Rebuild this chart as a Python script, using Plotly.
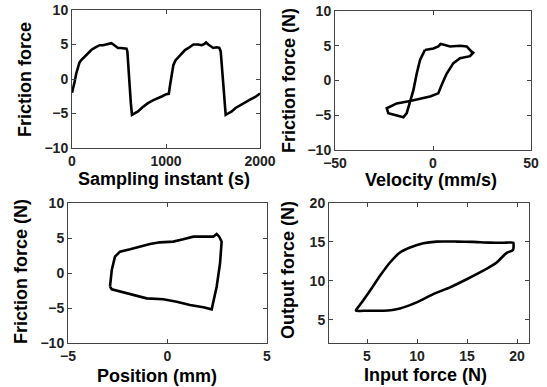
import plotly.graph_objects as go

# ---- data ----
t1 = [0, 15, 28, 45, 64, 80, 99, 125, 152, 180, 205, 240, 270, 294, 330, 360, 390, 418, 440,
      465, 489, 520, 560, 580, 589, 600, 614, 626, 638, 660, 702, 750, 808, 860, 915, 960,
      1003, 1030, 1043, 1060, 1078, 1100, 1131, 1165, 1202, 1250, 1291, 1340, 1380, 1410,
      1426, 1450, 1475, 1503, 1540, 1567, 1582, 1596, 1610, 1622, 1635, 1660, 1699, 1740,
      1787, 1840, 1894, 1950, 2000]
f1 = [-2.0, -1.3, -0.4, 0.8, 1.8, 2.4, 2.75, 3.1, 3.5, 3.9, 4.2, 4.5, 4.7, 4.9, 4.9, 5.0,
      5.1, 5.2, 5.0, 4.7, 4.5, 4.5, 4.45, 4.4, 4.0, 1.5, -1.35, -3.5, -5.2, -5.0, -4.7, -4.1,
      -3.5, -3.1, -2.8, -2.5, -2.2, -2.15, -0.9, 0.6, 2.0, 2.7, 3.2, 3.7, 4.2, 4.6, 5.0, 5.0,
      4.9, 5.1, 5.3, 5.0, 4.7, 4.5, 4.6, 4.5, 4.0, 1.5, -1.35, -3.5, -5.2, -5.0, -4.7, -4.2,
      -3.8, -3.4, -3.0, -2.6, -2.1]

v2 = [-4.1, 0.2, 2.7, 3.9, 6.1, 8.7, 13.8, 17.2, 19.7, 20.5, 18.9, 13.8, 10.4, 7.0, 4.4,
      2.7, -1.5, -6.6, -11.7, -18.5, -23.6, -22.8, -19.4, -15.1, -13.4, -11.7, -10.0, -8.3,
      -6.6, -4.1]
f2 = [4.4, 4.6, 4.9, 5.25, 5.1, 4.9, 5.0, 4.9, 4.15, 4.0, 3.5, 3.2, 2.5, 1.0, -0.65, -1.85,
      -2.3, -2.65, -2.95, -3.3, -4.0, -4.7, -4.95, -5.3, -4.7, -3.05, -1.4, 1.0, 2.95, 4.4]

p3 = [-2.89, -2.8, -2.64, -2.39, -1.88, -1.38, -0.88, -0.38, 0.29, 0.79, 1.3, 1.97, 2.3,
      2.47, 2.6, 2.72, 2.64, 2.47, 2.3, 2.22, 1.8, 1.13, 0.46, -0.21, -1.05, -1.72, -2.39,
      -2.8, -2.89]
f3 = [-1.96, 0.43, 2.33, 3.05, 3.38, 3.76, 4.14, 4.38, 4.48, 4.81, 5.19, 5.19, 5.19, 5.57,
      5.19, 4.48, 1.38, -1.96, -4.33, -5.19, -4.9, -4.57, -4.1, -3.76, -3.62, -3.14, -2.67,
      -2.33, -1.96]

in4 = [3.9, 4.97, 6.63, 8.3, 9.97, 11.63, 13.3, 14.97, 16.63, 17.97, 18.97, 19.47, 19.63,
       19.63, 18.97, 17.3, 15.6, 13.97, 11.97, 10.63, 9.3, 8.3, 7.3, 6.3, 5.3, 4.47, 3.97, 3.9]
out4 = [6.15, 6.15, 6.15, 6.45, 7.22, 8.29, 9.15, 10.2, 11.3, 12.35, 13.6, 13.85, 14.06,
        14.9, 14.9, 14.9, 15.0, 15.04, 15.04, 14.83, 14.27, 13.63, 12.35, 10.64, 8.72, 7.22,
        6.37, 6.15]

W, H = 547, 387
FONT = "Liberation Sans"

fig = go.Figure()
line = dict(color="black", width=2.6)
fig.add_trace(go.Scatter(x=t1, y=f1, mode="lines", line=line, xaxis="x", yaxis="y"))
fig.add_trace(go.Scatter(x=v2, y=f2, mode="lines", line=line, xaxis="x2", yaxis="y2"))
fig.add_trace(go.Scatter(x=p3, y=f3, mode="lines", line=line, xaxis="x3", yaxis="y3"))
fig.add_trace(go.Scatter(x=in4, y=out4, mode="lines",
                         line=dict(color="black", width=2.6, shape="spline", smoothing=0.5),
                         xaxis="x4", yaxis="y4"))


def dom_x(a, b):
    return [a / W, b / W]


def dom_y(top, bottom):
    return [1 - bottom / H, 1 - top / H]


axcommon = dict(showline=True, linecolor="#444", linewidth=1, mirror="ticks", ticks="inside",
                ticklen=4, tickcolor="#444", showgrid=False, zeroline=False, automargin=False,
                tickfont=dict(family=FONT, size=14, color="#222", weight="bold"))

fig.update_layout(
    width=W, height=H, margin=dict(l=0, r=0, t=0, b=0, autoexpand=False),
    paper_bgcolor="white", plot_bgcolor="white", showlegend=False,
    xaxis=dict(domain=dom_x(72, 260), anchor="y", range=[0, 2000], tickvals=[0, 1000, 2000], **axcommon),
    yaxis=dict(domain=dom_y(10, 148), anchor="x", range=[-10, 10], tickvals=[-10, -5, 0, 5, 10], **axcommon),
    xaxis2=dict(domain=dom_x(335, 531), anchor="y2", range=[-50, 50], tickvals=[-50, 0, 50], **axcommon),
    yaxis2=dict(domain=dom_y(11, 150), anchor="x2", range=[-10, 10], tickvals=[-10, -5, 0, 5, 10], **axcommon),
    xaxis3=dict(domain=dom_x(68, 267), anchor="y3", range=[-5, 5], tickvals=[-5, 0, 5], **axcommon),
    yaxis3=dict(domain=dom_y(203, 343), anchor="x3", range=[-10, 10], tickvals=[-10, -5, 0, 5, 10], **axcommon),
    xaxis4=dict(domain=dom_x(329, 529), anchor="y4", range=[1.2, 21.2], tickvals=[5, 10, 15, 20], **axcommon),
    yaxis4=dict(domain=dom_y(203, 343), anchor="x4", range=[2, 20], tickvals=[5, 10, 15, 20], **axcommon),
)

titles = [
    ("Sampling instant (s)", 164, 179, 0),
    ("Friction force", 25, 80, -90),
    ("Velocity (mm/s)", 431, 180, 0),
    ("Friction force (N)", 289, 81, -90),
    ("Position (mm)", 157, 376, 0),
    ("Friction force (N)", 21, 272, -90),
    ("Input force (N)", 425, 375, 0),
    ("Output force (N)", 288, 270, -90),
]
for txt, cx, cy, ang in titles:
    fig.add_annotation(text=txt, x=cx / W, y=1 - cy / H, xref="paper", yref="paper",
                       xanchor="center", yanchor="middle", showarrow=False, textangle=ang,
                       font=dict(family=FONT, size=18, color="black", weight="bold"))

fig.write_html("out.html", config={"displayModeBar": False},
               post_script="document.body.style.margin='0';document.body.style.overflow='hidden';")
